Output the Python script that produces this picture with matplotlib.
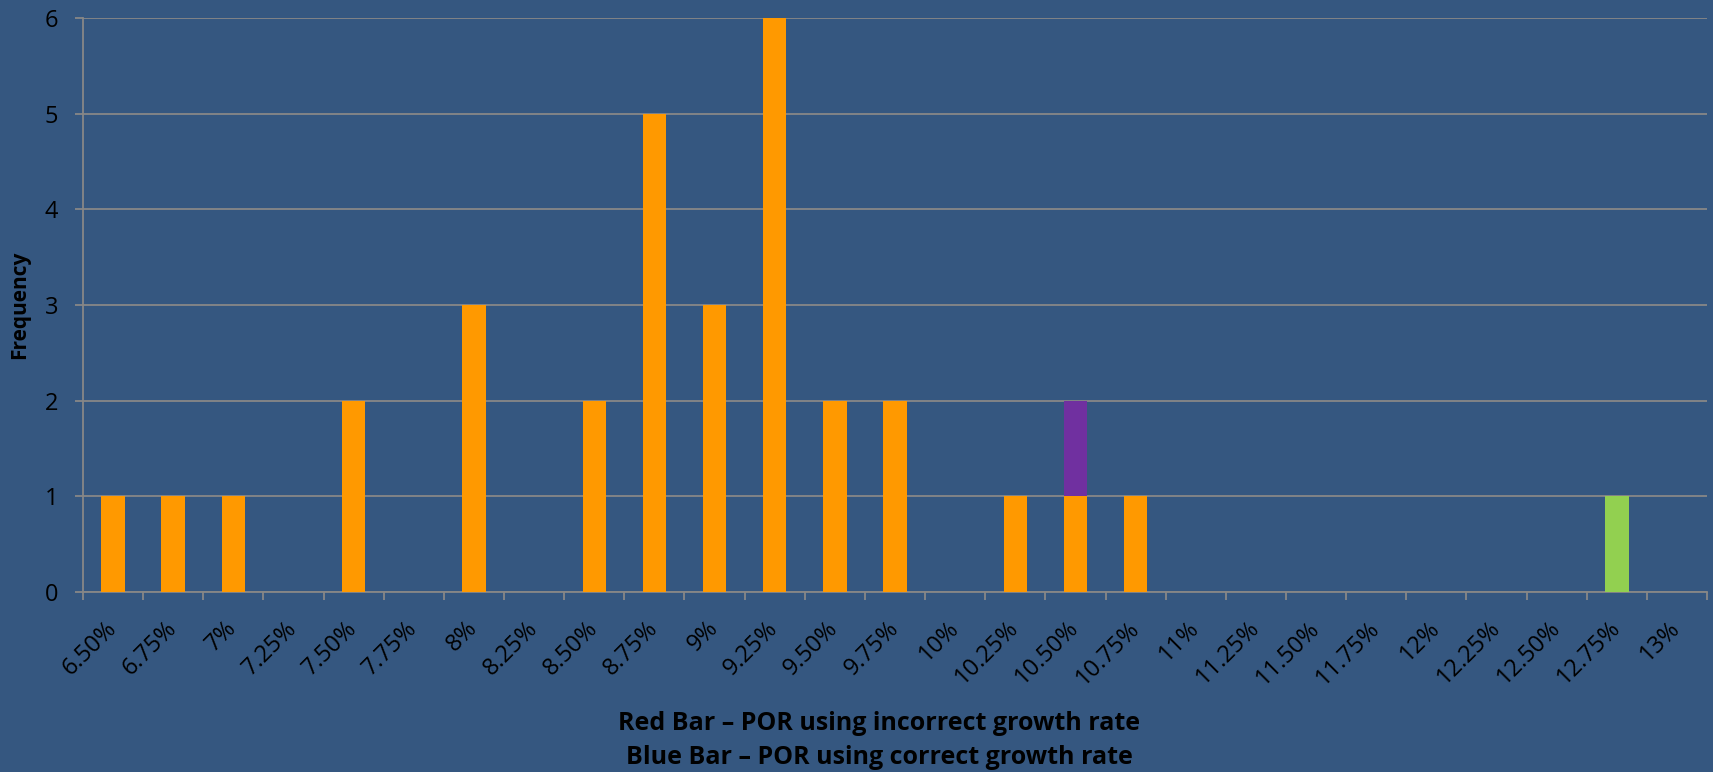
#!/usr/bin/env python3
# -*- coding: utf-8 -*-

"""
Histogram of POR growth rates, stacked frequency bars.
"""

import numpy as np
import matplotlib
matplotlib.use("Agg")
import matplotlib.pyplot as plt
from matplotlib.transforms import ScaledTranslation

# ===============================
# Data
# ===============================

rates = ["6.50%", "6.75%", "7%", "7.25%", "7.50%", "7.75%", "8%", "8.25%",
         "8.50%", "8.75%", "9%", "9.25%", "9.50%", "9.75%", "10%", "10.25%",
         "10.50%", "10.75%", "11%", "11.25%", "11.50%", "11.75%", "12%",
         "12.25%", "12.50%", "12.75%", "13%"]
orange_counts = [1, 1, 1, 0, 2, 0, 3, 0, 2, 5, 3, 6, 2, 2, 0, 1,
                 1, 1, 0, 0, 0, 0, 0, 0, 0, 0, 0]
purple_counts = [0, 0, 0, 0, 0, 0, 0, 0, 0, 0, 0, 0, 0, 0, 0, 0,
                 1, 0, 0, 0, 0, 0, 0, 0, 0, 0, 0]
green_counts = [0, 0, 0, 0, 0, 0, 0, 0, 0, 0, 0, 0, 0, 0, 0, 0,
                0, 0, 0, 0, 0, 0, 0, 0, 0, 1, 0]
yticks = [0, 1, 2, 3, 4, 5, 6]

# ===============================
# Style
# ===============================

bg = "#355780"
gridcol = "#878787"
plt.rcParams["font.family"] = ["Open Sans", "DejaVu Sans"]

fig = plt.figure(figsize=(17.13, 7.72), dpi=100)
fig.patch.set_facecolor(bg)
ax = fig.add_axes([83 / 1713, 1 - 592 / 772, (1707 - 83) / 1713, (592 - 18) / 772])
ax.set_facecolor(bg)

x = np.arange(len(rates))
orange = np.array(orange_counts)
purple = np.array(purple_counts)
green = np.array(green_counts)

ax.set_axisbelow(True)
ax.yaxis.grid(True, color=gridcol, linewidth=1.3)
w = 0.39
ax.bar(x, orange, width=w, color="#FF9900", zorder=3)
ax.bar(x, purple, width=w, bottom=orange, color="#7030A0", zorder=3)
ax.bar(x, green, width=w, bottom=orange + purple, color="#92D050", zorder=3)

ax.set_xlim(-0.5, len(rates) - 0.5)
ax.set_ylim(0, 6)
ax.set_yticks(yticks)

# labels at category centres, tick marks at the boundaries
ax.set_xticks(x)
ax.set_xticklabels(rates, rotation=45, ha="right", va="center",
                   rotation_mode="anchor", fontsize=17)
ax.tick_params(axis="x", which="major", length=0, pad=20)
shift = ScaledTranslation(0 / 100, -5 / 100, fig.dpi_scale_trans)
for lab in ax.get_xticklabels():
    lab.set_transform(lab.get_transform() + shift)
ax.set_xticks(np.arange(len(rates) + 1) - 0.5, minor=True)
ax.tick_params(axis="x", which="minor", length=6, width=1.3, color=gridcol)
ax.tick_params(axis="y", length=6, width=1.3, color=gridcol, pad=12, labelsize=17)

for s in ["top", "right"]:
    ax.spines[s].set_visible(False)
for s in ["left", "bottom"]:
    ax.spines[s].set_color(gridcol)
    ax.spines[s].set_linewidth(1.3)

fig.text(20 / 1713, 1 - 305 / 772, "Frequency", rotation=90, fontsize=15,
         fontweight="bold", ha="center", va="center")
fig.text(879 / 1713, 1 - 723 / 772, "Red Bar \u2013 POR using incorrect growth rate",
         fontsize=18, fontweight="bold", ha="center", va="center")
fig.text(879 / 1713, 1 - 757 / 772, "Blue Bar \u2013 POR using correct growth rate",
         fontsize=18, fontweight="bold", ha="center", va="center")

fig.savefig("out.png", facecolor=bg)
